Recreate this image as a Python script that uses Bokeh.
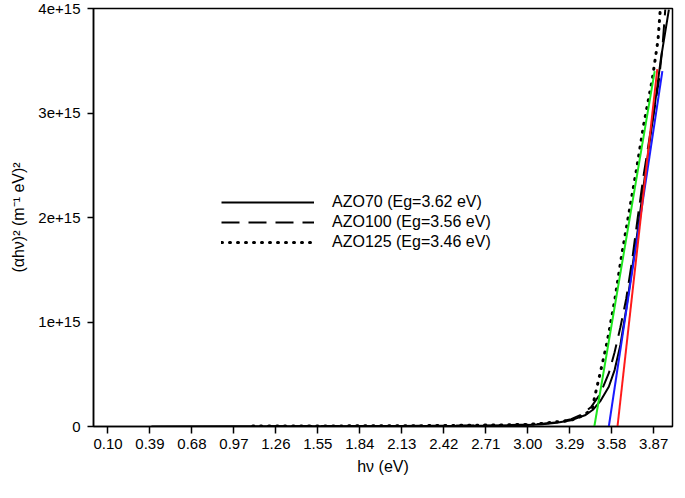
from bokeh.plotting import figure
from bokeh.models import FixedTicker, CustomJSTickFormatter, Legend, LegendItem
from bokeh.embed import file_html
from bokeh.resources import INLINE

# ---- data (y values in units of 1e15 m^-2 eV^2 before scaling) ----
SCALE = 1e15
x_azo70 = [0.40, 1.00, 1.50, 2.00, 2.50, 2.80, 3.00, 3.10, 3.20, 3.30, 3.35, 3.40, 3.45, 3.50, 3.56,
           3.60, 3.64, 3.68, 3.72, 3.76, 3.80, 3.84, 3.88, 3.92, 3.975]
y_azo70 = [0.000, 0.002, 0.003, 0.004, 0.006, 0.010, 0.015, 0.022, 0.035, 0.060, 0.085, 0.11, 0.16, 0.24, 0.38,
           0.54, 0.78, 1.12, 1.50, 1.88, 2.30, 2.70, 3.10, 3.52, 3.99]
x_azo100 = [1.20, 1.60, 2.00, 2.40, 2.80, 3.00, 3.10, 3.20, 3.30, 3.38, 3.44, 3.50, 3.56, 3.60,
            3.64, 3.68, 3.72, 3.76, 3.80, 3.84, 3.88, 3.905, 3.93, 3.95]
y_azo100 = [0.003, 0.004, 0.005, 0.007, 0.012, 0.018, 0.026, 0.040, 0.070, 0.12, 0.19, 0.31, 0.51, 0.71,
            0.95, 1.22, 1.58, 2.00, 2.40, 2.75, 3.08, 3.30, 3.62, 3.99]
x_azo125 = [1.10, 1.50, 2.00, 2.40, 2.80, 3.00, 3.10, 3.20, 3.29, 3.35, 3.40, 3.445, 3.465, 3.49, 3.515,
            3.55, 3.60, 3.65, 3.70, 3.75, 3.80, 3.86, 3.90, 3.915]
y_azo125 = [0.004, 0.005, 0.007, 0.009, 0.015, 0.020, 0.030, 0.045, 0.055, 0.086, 0.12, 0.17, 0.30, 0.45, 0.60,
            0.82, 1.20, 1.65, 2.05, 2.45, 2.88, 3.32, 3.70, 3.98]

# tangent (Tauc) fit lines
fit_green_x = [3.46, 3.877]
fit_green_y = [0.0, 3.40]
fit_blue_x = [3.56, 3.93]
fit_blue_y = [0.0, 3.40]
fit_red_x = [3.62, 3.895]
fit_red_y = [0.0, 3.42]

legend_labels = ["AZO70 (Eg=3.62 eV)", "AZO100 (Eg=3.56 eV)", "AZO125 (Eg=3.46 eV)"]
x_ticks = [0.10, 0.39, 0.68, 0.97, 1.26, 1.55, 1.84, 2.13, 2.42, 2.71, 3.00, 3.29, 3.58, 3.87]
y_ticks = [0.0, 1.0, 2.0, 3.0, 4.0]

def sc(v):
    return [a * SCALE for a in v]

FONT = "Liberation Sans"

p = figure(width=675, height=490, output_backend="svg", toolbar_location=None,
           x_range=(0.0, 4.0), y_range=(0.0, 4.0e15),
           min_border_left=93, min_border_right=3, min_border_top=8, min_border_bottom=64)
p.grid.visible = False
p.outline_line_color = "black"
p.outline_line_width = 1.5
p.background_fill_color = "white"
p.border_fill_color = "white"

r70 = p.line(x_azo70, sc(y_azo70), line_color="black", line_width=2)
r100 = p.line(x_azo100, sc(y_azo100), line_color="black", line_width=2, line_dash="18 9")
r125 = p.line(x_azo125, sc(y_azo125), line_color="black", line_width=3, line_dash="1 7", line_cap="round")

p.line(fit_green_x, sc(fit_green_y), line_color="#1ee61e", line_width=2)
p.line(fit_blue_x, sc(fit_blue_y), line_color="#1a1aff", line_width=2)
p.line(fit_red_x, sc(fit_red_y), line_color="#ff1a1a", line_width=2)

legend = Legend(items=[LegendItem(label=legend_labels[0], renderers=[r70]),
                       LegendItem(label=legend_labels[1], renderers=[r100]),
                       LegendItem(label=legend_labels[2], renderers=[r125])],
                location=(128, 174), orientation="vertical",
                border_line_color=None, background_fill_alpha=0.0,
                padding=0, margin=0, spacing=0,
                glyph_width=93, glyph_height=20, label_height=20, label_standoff=18,
                label_text_font=FONT, label_text_font_size="16px", label_text_color="black")
p.add_layout(legend, "center")

xa = p.xaxis[0]
xa.ticker = FixedTicker(ticks=x_ticks)
xa.formatter = CustomJSTickFormatter(code="return tick.toFixed(2);")
xa.minor_tick_line_color = None
xa.major_tick_in = 0
xa.major_tick_out = 7
xa.major_label_standoff = 5
xa.axis_label = "hν (eV)"
xa.axis_label_standoff = 6
xa.axis_line_color = "black"
xa.axis_line_width = 1.5
xa.major_tick_line_width = 1.5

ya = p.yaxis[0]
ya.ticker = FixedTicker(ticks=[t * SCALE for t in y_ticks])
ya.formatter = CustomJSTickFormatter(code="return tick == 0 ? '0' : (tick/1e15).toFixed(0) + 'e+15';")
ya.minor_tick_line_color = None
ya.major_tick_in = 0
ya.major_tick_out = 6
ya.major_label_standoff = 7
ya.axis_label = "(αhν)² (m⁻¹ eV)²"
ya.axis_label_standoff = 8
ya.axis_line_color = "black"
ya.axis_line_width = 1.5
ya.major_tick_line_width = 1.5

for ax in (xa, ya):
    ax.major_label_text_font = FONT
    ax.major_label_text_font_size = "15px"
    ax.major_label_text_color = "black"
    ax.axis_label_text_font = FONT
    ax.axis_label_text_font_size = "16px"
    ax.axis_label_text_font_style = "normal"
    ax.axis_label_text_color = "black"

open("out.html", "w").write(file_html(p, INLINE))
